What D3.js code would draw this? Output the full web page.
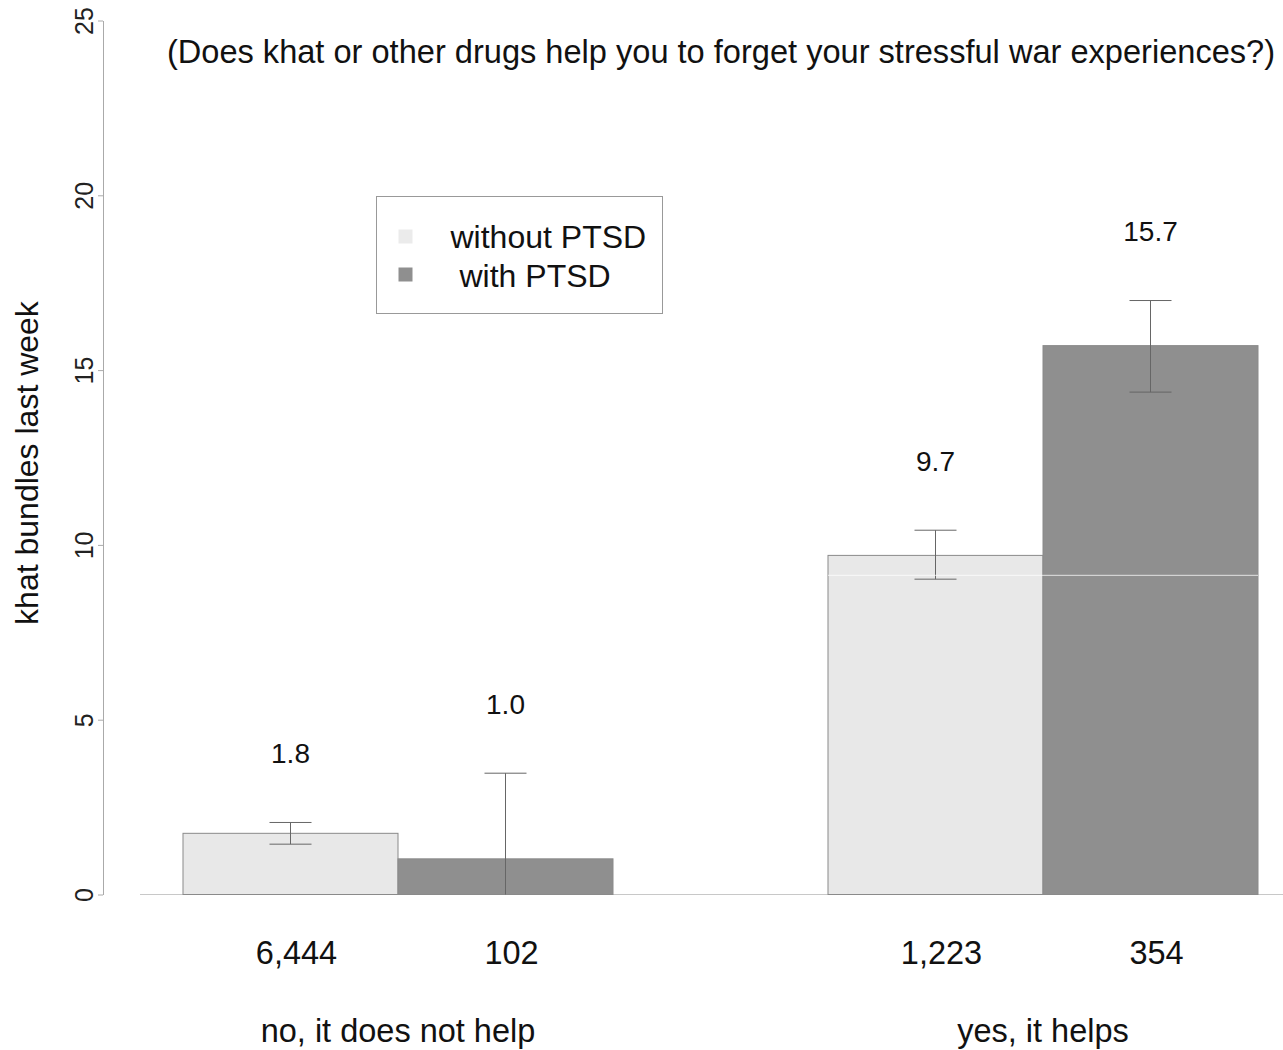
<!DOCTYPE html>
<html>
<head>
<meta charset="utf-8">
<script src="https://cdn.jsdelivr.net/npm/d3@7"></script>
<style>
  html, body { margin: 0; padding: 0; background: #fff; }
  svg { display: block; font-family: "Liberation Sans", Arial, Helvetica, sans-serif; }
</style>
</head>
<body>
<svg id="chart" width="1283" height="1050"></svg>
<script>
// Answer groups and PTSD subgroups
const groups = ["no, it does not help", "yes, it helps"];
const subgroups = ["without PTSD", "with PTSD"];

// Mean khat bundles last week, per group (without PTSD, with PTSD)
const meansNo = [1.75, 1.02];
const meansYes = [9.7, 15.7];
const valueLabelsNo = ["1.8", "1.0"];
const valueLabelsYes = ["9.7", "15.7"];

// Confidence interval bounds
const ciLowNo = [1.44, 0];
const ciHighNo = [2.06, 3.47];
const ciLowYes = [9.02, 14.37];
const ciHighYes = [10.42, 16.99];

// Number of respondents
const countsNo = ["6,444", "102"];
const countsYes = ["1,223", "354"];

// Faint white rule across the second group
const ruleValueYes = 9.13;

const yTicks = [0, 5, 10, 15, 20, 25];

const colors = ["#e8e8e8", "#8f8f8f"];

const rows = [
  { group: groups[0], means: meansNo, labels: valueLabelsNo, lo: ciLowNo, hi: ciHighNo, counts: countsNo },
  { group: groups[1], means: meansYes, labels: valueLabelsYes, lo: ciLowYes, hi: ciHighYes, counts: countsYes }
];

const svg = d3.select("#chart");

const y = d3.scaleLinear().domain([0, 25]).range([894.5, 20.5]);
const x0 = d3.scaleBand().domain(groups).range([183, 1258]).paddingInner(1 / 3).paddingOuter(0);
const x1 = d3.scaleBand().domain(subgroups).range([0, x0.bandwidth()]).padding(0);

// Title
svg.append("text")
  .attr("x", 721).attr("y", 63)
  .attr("text-anchor", "middle")
  .style("font-size", "32.6px")
  .attr("fill", "#111")
  .text("(Does khat or other drugs help you to forget your stressful war experiences?)");

// Y axis
const yAxis = d3.axisLeft(y).tickValues(yTicks).tickSize(5).tickPadding(4).tickSizeOuter(0);
const gy = svg.append("g").attr("transform", "translate(103,0)").call(yAxis);
gy.attr("font-size", null).attr("font-family", null);
gy.select(".domain").attr("stroke", "#aaa");
gy.selectAll(".tick line").attr("stroke", "#aaa");
gy.selectAll(".tick text")
  .style("font-size", "25px")
  .attr("fill", "#222")
  .attr("text-anchor", "middle")
  .attr("dy", null)
  .attr("x", 0)
  .attr("transform", "translate(-19,0) rotate(-90)")
  .attr("dominant-baseline", "central");

// Y axis title
svg.append("text")
  .attr("transform", "translate(38,463) rotate(-90)")
  .attr("text-anchor", "middle")
  .style("font-size", "32px")
  .attr("fill", "#111")
  .text("khat bundles last week");

// Baseline
svg.append("line")
  .attr("x1", 140).attr("x2", 1283)
  .attr("y1", y(0)).attr("y2", y(0))
  .attr("stroke", "#c8c8c8").attr("stroke-width", 1.2);

// Bars
const g = svg.selectAll(".grp").data(rows).enter().append("g")
  .attr("class", "grp")
  .attr("transform", d => `translate(${x0(d.group)},0)`);

const cells = g.selectAll(".cell")
  .data(d => subgroups.map((s, i) => ({
    sub: s, i, mean: d.means[i], label: d.labels[i], lo: d.lo[i], hi: d.hi[i], count: d.counts[i]
  })))
  .enter().append("g").attr("class", "cell");

cells.append("rect")
  .attr("x", d => x1(d.sub))
  .attr("width", x1.bandwidth())
  .attr("y", d => y(d.mean))
  .attr("height", d => y(0) - y(d.mean))
  .attr("fill", d => colors[d.i])
  .attr("stroke", "#8a8a8a")
  .attr("stroke-width", 1);

// Error bars
const cx = d => x1(d.sub) + x1.bandwidth() / 2;
cells.append("line")
  .attr("x1", cx).attr("x2", cx)
  .attr("y1", d => y(d.lo)).attr("y2", d => y(d.hi))
  .attr("stroke", "#666").attr("stroke-width", 1);
cells.append("line")
  .attr("x1", d => cx(d) - 21).attr("x2", d => cx(d) + 21)
  .attr("y1", d => y(d.hi)).attr("y2", d => y(d.hi))
  .attr("stroke", "#666").attr("stroke-width", 1);
cells.filter(d => d.lo > 0).append("line")
  .attr("x1", d => cx(d) - 21).attr("x2", d => cx(d) + 21)
  .attr("y1", d => y(d.lo)).attr("y2", d => y(d.lo))
  .attr("stroke", "#666").attr("stroke-width", 1);

// Value labels above the error bars
cells.append("text")
  .attr("x", cx)
  .attr("y", d => y(d.hi) - 69)
  .attr("dy", "0.35em")
  .attr("text-anchor", "middle")
  .style("font-size", "28px")
  .attr("fill", "#111")
  .text(d => d.label);

// Respondent counts under the bars
cells.append("text")
  .attr("x", d => cx(d) + 6)
  .attr("y", 953)
  .attr("dy", "0.35em")
  .attr("text-anchor", "middle")
  .style("font-size", "32.5px")
  .attr("fill", "#111")
  .text(d => d.count);

// White rule across the second group
svg.append("line")
  .attr("x1", x0(groups[1])).attr("x2", x0(groups[1]) + x0.bandwidth())
  .attr("y1", y(ruleValueYes)).attr("y2", y(ruleValueYes))
  .attr("stroke", "#fff").attr("stroke-opacity", 0.75).attr("stroke-width", 1);

// Group labels
svg.selectAll(".glabel").data(groups).enter().append("text")
  .attr("class", "glabel")
  .attr("x", d => x0(d) + x0.bandwidth() / 2)
  .attr("y", 1031)
  .attr("dy", "0.35em")
  .attr("text-anchor", "middle")
  .style("font-size", "32.5px")
  .attr("fill", "#111")
  .text(d => d);

// Legend
const legend = svg.append("g").attr("transform", "translate(376.5,196.5)");
legend.append("rect")
  .attr("width", 286).attr("height", 117)
  .attr("fill", "#fff").attr("stroke", "#999").attr("stroke-width", 1);
const legendTextX = [74, 83];
subgroups.forEach((s, i) => {
  legend.append("rect")
    .attr("x", 22).attr("y", 33 + i * 38)
    .attr("width", 14).attr("height", 14)
    .attr("fill", i === 0 ? "#ebebeb" : "#8f8f8f");
  legend.append("text")
    .attr("x", legendTextX[i]).attr("y", 40 + i * 39)
    .attr("dy", "0.35em")
    .style("font-size", "32px")
    .attr("fill", "#111")
    .text(s);
});
</script>
</body>
</html>
